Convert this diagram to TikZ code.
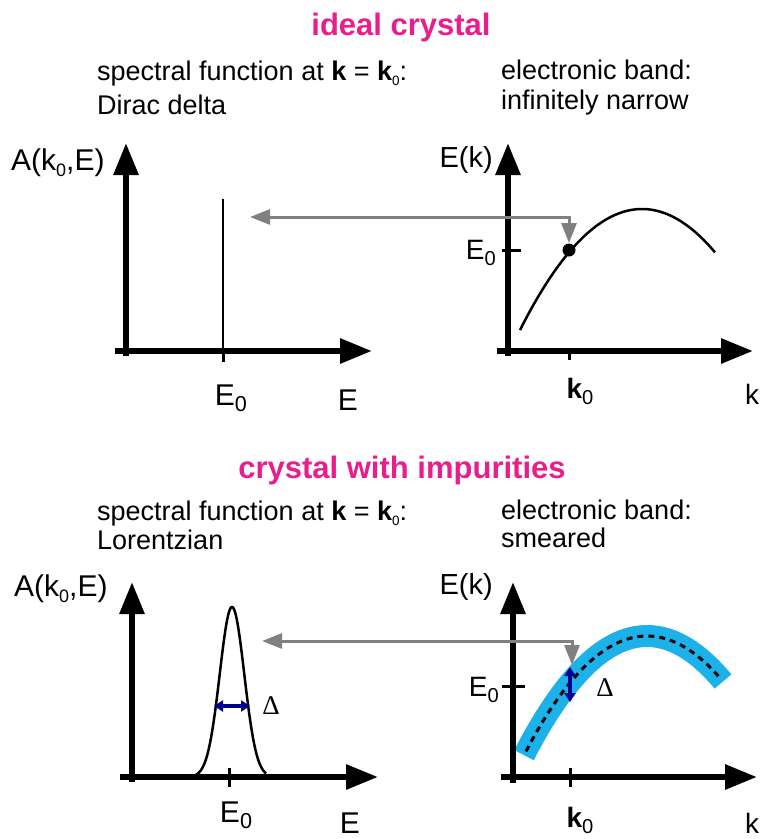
\documentclass[tikz,border=0pt]{standalone}
\usepackage{fontspec}
\setmainfont{Liberation Sans}
\newfontfamily\serifD{Liberation Serif}
\usepackage{graphicx}
\usetikzlibrary{arrows.meta}
\definecolor{titlemag}{RGB}{233,30,140}
\definecolor{bandblue}{RGB}{28,177,232}
\definecolor{arrgray}{RGB}{128,128,128}
\definecolor{dnavy}{RGB}{0,0,140}
\newcommand\lowsub[2][0.72]{\raisebox{-0.22em}{\scalebox{#1}{#2}}}
\begin{document}
\begin{tikzpicture}[x=1pt,y=-1pt,
  title/.style={font=\fontsize{31}{36}\selectfont\bfseries, text=titlemag, anchor=base, inner sep=0},
  body/.style={font=\fontsize{27}{32}\selectfont, anchor=base west, inner sep=0},
  lbl/.style={font=\fontsize{#1}{#1}\selectfont, inner sep=0},
  lbl/.default=27,
  axis/.style={line width=6pt, -{Triangle[length=32pt,width=24pt]}},
  tickmark/.style={line width=3pt},
  curve/.style={line width=2.5pt},
  link/.style={arrgray, line width=3pt, {Triangle[length=20pt,width=15pt]}-{Triangle[length=20pt,width=15pt]}},
  widtharrow/.style={dnavy, line width=3.5pt, {Triangle[length=9pt,width=11pt]}-{Triangle[length=9pt,width=11pt]}},
]
\useasboundingbox (0,0) rectangle (762,839);

% ================= top panel =================
\node[title] (t1) at (401,35) {ideal crystal};
\node[body] (s1a) at (97,80) {spectral function at \textbf{k} = \textbf{k}\lowsub[0.5]{0}:};
\node[body] (s1b) at (97,114) {Dirac delta};
\node[body] (b1a) at (501,79) {electronic band:};
\node[body] (b1b) at (501,109) {infinitely narrow};

% left axes
\draw[axis] (126,356) -- (126,143);
\draw[axis] (115,351) -- (372,351);
\node[lbl=30, anchor=base west] (A1) at (11,170) {A(k\lowsub[0.6]{0},E)};
\draw[tickmark] (223,351) -- (223,362);
\draw[curve] (223,351) -- (223,199);
\coordinate (delta1) at (250,217);
\node[lbl=30, anchor=base] (E01) at (231,405) {E\lowsub{0}};
\node[lbl=30, anchor=base] (Eax1) at (348,410) {E};

% right axes
\draw[axis] (508,356) -- (508,143);
\draw[axis] (497,351) -- (753,351);
\node[lbl=29, anchor=base east] (Ek1) at (493,167) {E(k)};
\draw[tickmark] (502,250) -- (521,250);
\draw[tickmark] (569,351) -- (569,360);
\node[lbl=28, anchor=base east] (E0r1) at (496,259) {E\lowsub{0}};
\node[lbl=28, anchor=base] (k01) at (580,398) {\textbf{k}\lowsub{0}};
\node[lbl=28, anchor=base west] (k1) at (745,404) {k};
\draw[curve] plot[domain=520:715, samples=70] (\x,{209+0.00813*(\x-642)^2});
\fill (569,250) circle (6.5pt);
\coordinate (dot1) at (569,243);
\coordinate (corner1) at (569,217);
\draw[link] (delta1) -- (corner1) -- (dot1);

% ================= bottom panel =================
\node[title] (t2) at (402,478) {crystal with impurities};
\node[body] (s2a) at (97,520) {spectral function at \textbf{k} = \textbf{k}\lowsub[0.5]{0}:};
\node[body] (s2b) at (97,549) {Lorentzian};
\node[body] (b2a) at (501,519) {electronic band:};
\node[body] (b2b) at (501,547) {smeared};

% left axes
\draw[axis] (132,782) -- (132,582);
\draw[axis] (120,777) -- (378,777);
\node[lbl=30, anchor=base west] (A2) at (14,596) {A(k\lowsub[0.6]{0},E)};
\draw[tickmark] (229,768) -- (229,787);
\draw[curve] plot[domain=185:266, samples=120] (\x,{777-170*exp(-((\x-232)^2)/300)});
\coordinate (dl) at (214,706);
\coordinate (dr) at (250,706);
\draw[widtharrow] (dl) -- (dr);
\node[lbl=27, font=\fontsize{27}{27}\selectfont\serifD] (D2) at (271,706) {Δ};
\node[lbl=30, anchor=base] (E02) at (236,822) {E\lowsub{0}};
\node[lbl=30, anchor=base] (Eax2) at (350,833) {E};

% right panel band
\draw[bandblue, line width=22pt] plot[domain=524:723, samples=70] (\x,{636+0.00787*(\x-647)^2});
\draw[line width=3pt, dash pattern=on 6pt off 5pt] plot[domain=526:720, samples=70] (\x,{636+0.00787*(\x-647)^2});

% right axes
\draw[axis] (513,783) -- (513,582);
\draw[axis] (501,777) -- (757,777);
\node[lbl=29, anchor=base east] (Ek2) at (493,594) {E(k)};
\draw[tickmark] (502,686) -- (525,686);
\draw[tickmark] (570,768) -- (570,787);
\node[lbl=28, anchor=base east] (E0r2) at (499,696) {E\lowsub{0}};
\node[lbl=28, anchor=base] (k02) at (580,827) {\textbf{k}\lowsub{0}};
\node[lbl=28, anchor=base west] (k2) at (745,833) {k};
\coordinate (bu) at (570,667);
\coordinate (bd) at (570,702);
\draw[widtharrow] (bu) -- (bd);
\node[lbl=27, font=\fontsize{27}{27}\selectfont\serifD] (D3) at (605,688) {Δ};
\coordinate (delta2) at (262,641);
\coordinate (corner2) at (572,641);
\coordinate (band2) at (572,665);
\draw[link] (delta2) -- (corner2) -- (band2);
\end{tikzpicture}
\end{document}
